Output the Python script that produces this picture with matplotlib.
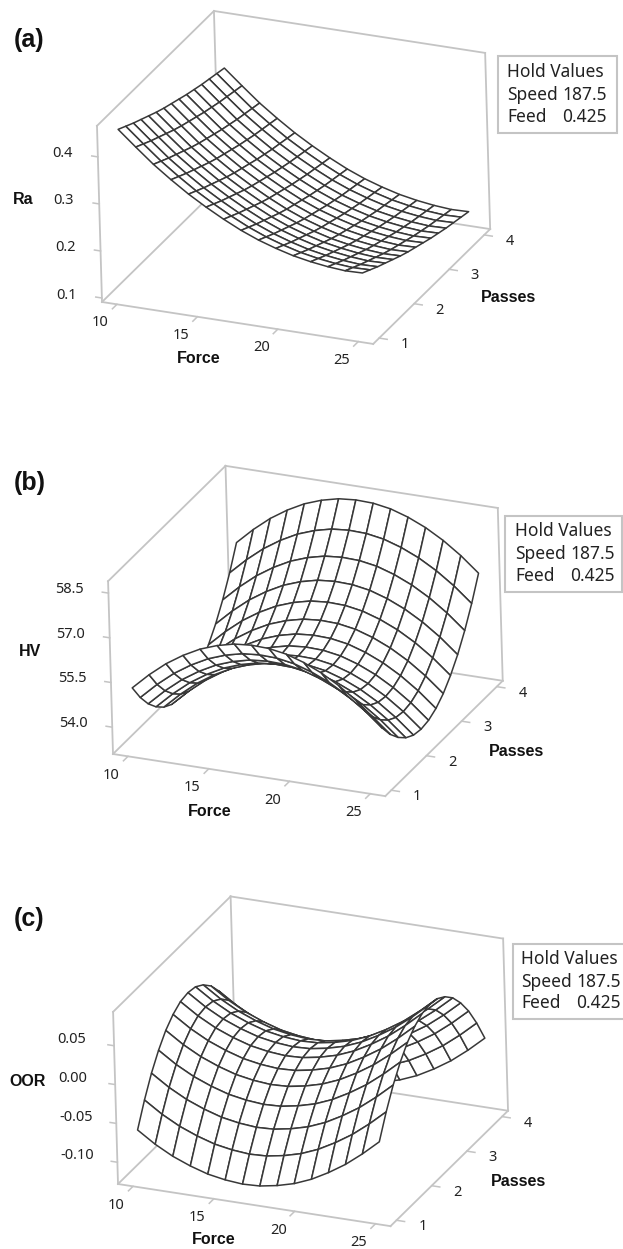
import matplotlib
matplotlib.use("Agg")
import matplotlib.pyplot as plt
from matplotlib.patches import Rectangle
from matplotlib.transforms import offset_copy
from mpl_toolkits.mplot3d import proj3d
import numpy as np

W, H = 623, 1249

force_ticks = [10, 15, 20, 25]
passes_ticks = [1, 2, 3, 4]
force_mesh = np.linspace(10, 25, 15)
passes_mesh = np.linspace(1, 4, 15)

# rows = passes 1..4, columns = force 10..25
ra_values = [
    [.451, .419, .388, .361, .336, .314, .294, .276, .261, .249, .239, .232, .227, .224, .225],
    [.442, .410, .379, .352, .327, .305, .285, .267, .252, .240, .230, .223, .218, .215, .216],
    [.433, .401, .370, .343, .318, .296, .276, .258, .243, .231, .221, .214, .209, .206, .207],
    [.425, .393, .362, .335, .310, .288, .268, .250, .235, .223, .213, .206, .201, .198, .199],
    [.417, .385, .354, .327, .302, .280, .260, .242, .227, .215, .205, .198, .193, .190, .191],
    [.409, .377, .346, .319, .294, .272, .252, .234, .219, .207, .197, .190, .185, .182, .183],
    [.402, .370, .339, .312, .287, .265, .245, .227, .212, .200, .190, .183, .178, .175, .176],
    [.396, .364, .333, .306, .281, .259, .239, .221, .206, .194, .184, .177, .172, .169, .170],
    [.390, .358, .327, .300, .275, .253, .233, .215, .200, .188, .178, .171, .166, .163, .164],
    [.384, .352, .321, .294, .269, .247, .227, .209, .194, .182, .172, .165, .160, .157, .158],
    [.379, .347, .316, .289, .264, .242, .222, .204, .189, .177, .167, .160, .155, .152, .153],
    [.374, .342, .311, .284, .259, .237, .217, .199, .184, .172, .162, .155, .150, .147, .148],
    [.370, .338, .307, .280, .255, .233, .213, .195, .180, .168, .158, .151, .146, .143, .144],
    [.366, .334, .303, .276, .251, .229, .209, .191, .176, .164, .154, .147, .142, .139, .140],
    [.362, .330, .299, .272, .247, .225, .205, .187, .172, .160, .150, .143, .138, .135, .136],
]

hv_values = [
    [55.20, 55.73, 56.19, 56.56, 56.86, 57.07, 57.21, 57.26, 57.24, 57.14, 56.95, 56.69, 56.35, 55.93, 55.43],
    [54.63, 55.16, 55.62, 55.99, 56.29, 56.50, 56.64, 56.69, 56.67, 56.57, 56.38, 56.12, 55.78, 55.36, 54.86],
    [54.17, 54.70, 55.16, 55.53, 55.83, 56.04, 56.18, 56.23, 56.21, 56.11, 55.92, 55.66, 55.32, 54.90, 54.40],
    [53.82, 54.35, 54.81, 55.18, 55.48, 55.69, 55.83, 55.88, 55.86, 55.76, 55.57, 55.31, 54.97, 54.55, 54.05],
    [53.56, 54.09, 54.55, 54.92, 55.22, 55.43, 55.57, 55.62, 55.60, 55.50, 55.31, 55.05, 54.71, 54.29, 53.79],
    [53.40, 53.93, 54.39, 54.76, 55.06, 55.27, 55.41, 55.46, 55.44, 55.34, 55.15, 54.89, 54.55, 54.13, 53.63],
    [53.35, 53.88, 54.34, 54.71, 55.01, 55.22, 55.36, 55.41, 55.39, 55.29, 55.10, 54.84, 54.50, 54.08, 53.58],
    [53.40, 53.93, 54.39, 54.76, 55.06, 55.27, 55.41, 55.46, 55.44, 55.34, 55.15, 54.89, 54.55, 54.13, 53.63],
    [53.55, 54.08, 54.54, 54.91, 55.21, 55.42, 55.56, 55.61, 55.59, 55.49, 55.30, 55.04, 54.70, 54.28, 53.78],
    [53.80, 54.33, 54.79, 55.16, 55.46, 55.67, 55.81, 55.86, 55.84, 55.74, 55.55, 55.29, 54.95, 54.53, 54.03],
    [54.16, 54.69, 55.15, 55.52, 55.82, 56.03, 56.17, 56.22, 56.20, 56.10, 55.91, 55.65, 55.31, 54.89, 54.39],
    [54.61, 55.14, 55.60, 55.97, 56.27, 56.48, 56.62, 56.67, 56.65, 56.55, 56.36, 56.10, 55.76, 55.34, 54.84],
    [55.17, 55.70, 56.16, 56.53, 56.83, 57.04, 57.18, 57.23, 57.21, 57.11, 56.92, 56.66, 56.32, 55.90, 55.40],
    [55.83, 56.36, 56.82, 57.19, 57.49, 57.70, 57.84, 57.89, 57.87, 57.77, 57.58, 57.32, 56.98, 56.56, 56.06],
    [56.60, 57.13, 57.59, 57.96, 58.26, 58.47, 58.61, 58.66, 58.64, 58.54, 58.35, 58.09, 57.75, 57.33, 56.83],
]

oor_values = [
    [-.063, -.078, -.090, -.099, -.106, -.110, -.112, -.111, -.107, -.101, -.092, -.080, -.066, -.049, -.030],
    [-.034, -.049, -.061, -.070, -.077, -.081, -.083, -.082, -.078, -.072, -.063, -.051, -.037, -.020, -.001],
    [-.009, -.024, -.036, -.045, -.052, -.056, -.058, -.057, -.053, -.047, -.038, -.026, -.012, .005, .024],
    [.011, -.004, -.016, -.025, -.032, -.036, -.038, -.037, -.033, -.027, -.018, -.006, .008, .025, .044],
    [.027, .012, .000, -.009, -.016, -.020, -.022, -.021, -.017, -.011, -.002, .010, .024, .041, .060],
    [.038, .023, .011, .002, -.005, -.009, -.011, -.010, -.006, .000, .009, .021, .035, .052, .071],
    [.045, .030, .018, .009, .002, -.002, -.004, -.003, .001, .007, .016, .028, .042, .059, .078],
    [.047, .032, .020, .011, .004, .000, -.002, -.001, .003, .009, .018, .030, .044, .061, .080],
    [.045, .030, .018, .009, .002, -.002, -.004, -.003, .001, .007, .016, .028, .042, .059, .078],
    [.038, .023, .011, .002, -.005, -.009, -.011, -.010, -.006, .000, .009, .021, .035, .052, .071],
    [.027, .012, .000, -.009, -.016, -.020, -.022, -.021, -.017, -.011, -.002, .010, .024, .041, .060],
    [.011, -.004, -.016, -.025, -.032, -.036, -.038, -.037, -.033, -.027, -.018, -.006, .008, .025, .044],
    [-.009, -.024, -.036, -.045, -.052, -.056, -.058, -.057, -.053, -.047, -.038, -.026, -.012, .005, .024],
    [-.034, -.049, -.061, -.070, -.077, -.081, -.083, -.082, -.078, -.072, -.063, -.051, -.037, -.020, -.001],
    [-.063, -.078, -.090, -.099, -.106, -.110, -.112, -.111, -.107, -.101, -.092, -.080, -.066, -.049, -.030],
]

ra_ticks = [0.1, 0.2, 0.3, 0.4]
hv_ticks = [54.0, 55.5, 57.0, 58.5]
oor_ticks = [-0.10, -0.05, 0.00, 0.05]

FMIN, FMAX = 9.07, 25.93
PMIN, PMAX = 0.83, 4.17
GREY = "#c4c4c4"
DARK = "#383838"
TEXT = "#222222"

plt.rcParams["font.family"] = ["Noto Sans", "DejaVu Sans"]
fig = plt.figure(figsize=(W / 100, H / 100), dpi=100)


def fx(x):
    return x / W


def fy(y):
    return 1 - y / H


def label3d(ax, x, y, z, s, ha="center"):
    # project by hand so the label sits in plain 2D axes coordinates
    px, py, _ = proj3d.proj_transform(x, y, z, ax.get_proj())
    shifted = offset_copy(ax.transData, fig=fig, y=-2.5, units="dots")
    ax.text2D(px, py, s, transform=shifted, ha=ha, va="center", fontsize=10.5, color=TEXT)


def bold(x, y, s, size=11.5):
    fig.text(fx(x), fy(y), s, fontsize=size, fontweight="bold", family="Liberation Sans",
             ha="center", va="center", color="#111111")


def panel(letter, z, zticks, zfmt, zlim, zbox, zname, corner, letter_y, zname_xy, force_xy, passes_xy,
          box, hold_x, hold_y, zoff, zha):
    ax = fig.add_subplot(projection="3d", proj_type="ortho", computed_zorder=False)
    ax.view_init(elev=24.4, azim=-66, roll=1.63)
    ax.set_box_aspect((1, 1, zbox))
    ax.set_xlim(FMIN, FMAX)
    ax.set_ylim(PMIN, PMAX)
    ax.set_zlim(*zlim)
    ax.set_axis_off()
    ax.patch.set_alpha(0)

    # shift the axes so the left floor corner lands on its pixel
    size = 447
    ax.set_position([0, 0, size / W, size / H])
    px, py, _ = proj3d.proj_transform(FMIN, PMIN, zlim[0], ax.get_proj())
    dx, dy = ax.transData.transform((px, py))
    ax.set_position([(corner[0] - dx) / W, (H - corner[1] - dy) / H, size / W, size / H])

    # box frame
    z0, z1 = zlim
    frame = [
        ([FMIN, FMAX], [PMIN, PMIN], [z0, z0]),
        ([FMAX, FMAX], [PMIN, PMAX], [z0, z0]),
        ([FMIN, FMAX], [PMAX, PMAX], [z0, z0]),
        ([FMIN, FMIN], [PMIN, PMAX], [z0, z0]),
        ([FMIN, FMIN], [PMIN, PMIN], [z0, z1]),
        ([FMIN, FMIN], [PMAX, PMAX], [z0, z1]),
        ([FMAX, FMAX], [PMAX, PMAX], [z0, z1]),
        ([FMIN, FMIN], [PMIN, PMAX], [z1, z1]),
        ([FMIN, FMAX], [PMAX, PMAX], [z1, z1]),
    ]
    for xs, ys, zs in frame:
        ax.plot(xs, ys, zs, color=GREY, lw=1.3, zorder=1)

    # ticks and tick labels
    for t in force_ticks:
        ax.plot([t, t], [PMIN, PMIN - 0.13], [z0, z0], color=GREY, lw=1.1, zorder=1)
        label3d(ax, t, PMIN - 0.47, z0, str(t))
    for t in passes_ticks:
        ax.plot([FMAX, FMAX + 0.5], [t, t], [z0, z0], color=GREY, lw=1.1, zorder=1)
        label3d(ax, FMAX + 1.6, t, z0, str(t))
    for t in zticks:
        ax.plot([FMIN, FMIN - 0.38], [PMIN, PMIN], [t, t], color=GREY, lw=1.1, zorder=1)
        label3d(ax, FMIN - zoff, PMIN, t, zfmt % t, ha=zha)

    X, Y = np.meshgrid(force_mesh, passes_mesh)
    ax.plot_surface(X, Y, np.array(z), rstride=1, cstride=1, color="white", edgecolor=DARK,
                    linewidth=1.1, shade=False, antialiased=True, zorder=2)

    # labels around the box
    fig.text(fx(14), fy(letter_y), letter, fontsize=18, fontweight="bold", family="Liberation Sans",
             ha="left", va="center", color="#111111")
    bold(zname_xy[0], zname_xy[1], zname)
    bold(force_xy[0], force_xy[1], "Force")
    bold(passes_xy[0], passes_xy[1], "Passes")

    # hold values box
    x0, y0, x1, y1 = box
    fig.add_artist(Rectangle((fx(x0), fy(y1)), (x1 - x0) / W, (y1 - y0) / H, transform=fig.transFigure,
                             facecolor="white", edgecolor=GREY, lw=1.5))
    fig.text(fx(hold_x), fy(hold_y[0]), "Hold Values", fontsize=12.5, ha="left", va="center", color=TEXT)
    fig.text(fx(hold_x), fy(hold_y[1]), "Speed", fontsize=12.5, ha="left", va="center", color=TEXT)
    fig.text(fx(hold_x + 100), fy(hold_y[1]), "187.5", fontsize=12.5, ha="right", va="center", color=TEXT)
    fig.text(fx(hold_x), fy(hold_y[2]), "Feed", fontsize=12.5, ha="left", va="center", color=TEXT)
    fig.text(fx(hold_x + 100), fy(hold_y[2]), "0.425", fontsize=12.5, ha="right", va="center", color=TEXT)


panel("(a)", ra_values, ra_ticks, "%.1f", (0.0915, 0.466), 0.655, "Ra", (102, 302), 40, (23, 199), (199, 358),
      (508, 298), (498, 56, 617, 133), 507, (72, 95, 117), 2.2, "center")
panel("(b)", hv_values, hv_ticks, "%.1f", (53.1, 58.9), 0.64, "HV", (113, 754), 483, (30, 652), (210, 811),
      (517, 751), (505, 516, 622, 592), 515, (531, 554, 576), 2.4, "center")
panel("(c)", oor_values, oor_ticks, "%.2f", (-0.128, 0.0936), 0.637, "OOR", (118, 1184), 919, (28, 1082), (214, 1240),
      (519, 1181), (513, 944, 640, 1019), 521, (959, 982, 1003), 3.5, "left")

fig.savefig("out.png", dpi=100)
